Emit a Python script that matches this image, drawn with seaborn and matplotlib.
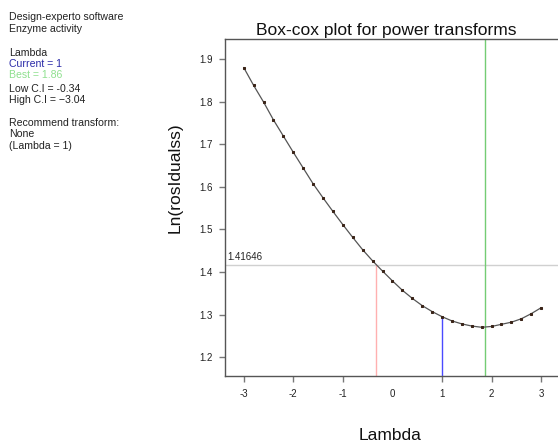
import matplotlib
matplotlib.use("Agg")
import matplotlib.pyplot as plt
import seaborn as sns
import pandas as pd

# ── data ──
lambdas = [-3.0, -2.8, -2.6, -2.4, -2.2, -2.0, -1.8, -1.6, -1.4, -1.2, -1.0,
           -0.8, -0.6, -0.4, -0.2, 0.0, 0.2, 0.4, 0.6, 0.8, 1.0,
           1.2, 1.4, 1.6, 1.8, 2.0, 2.2, 2.4, 2.6, 2.8, 3.0]
ln_resid = [1.880, 1.838, 1.799, 1.757, 1.719, 1.681, 1.644, 1.607, 1.574, 1.542, 1.511,
            1.481, 1.452, 1.426, 1.402, 1.379, 1.357, 1.338, 1.321, 1.307, 1.295,
            1.285, 1.278, 1.273, 1.270, 1.272, 1.277, 1.282, 1.290, 1.302, 1.316]
x_ticks = [-3, -2, -1, 0, 1, 2, 3]
y_ticks = [1.2, 1.3, 1.4, 1.5, 1.6, 1.7, 1.8, 1.9]

current = 1.0
current_val = 1.295
best = 1.86
low_ci = -0.34
ci_level = 1.41646

df = pd.DataFrame({"Lambda": lambdas, "ln": ln_resid})

sns.set_theme(style="white")
plt.rcParams["font.family"] = ["Liberation Sans", "DejaVu Sans"]

fig = plt.figure(figsize=(5.58, 4.43), dpi=100)
ax = fig.add_axes([0.403, 0.151, 0.597, 0.761])

# reference lines
ax.axhline(ci_level, color="#d0d0d0", linewidth=1, zorder=1)
ax.axvline(best, color="#74cc74", linewidth=1, zorder=1)
ax.plot([low_ci, low_ci], [1.1554, ci_level], color="#ffb0b0", linewidth=1, zorder=1)
ax.plot([current, current], [1.1554, current_val], color="#4a4aff", linewidth=1, zorder=1)

sns.lineplot(data=df, x="Lambda", y="ln", ax=ax, color="#555555", linewidth=0.9,
             marker="s", markersize=1.8, markerfacecolor="#3a2418",
             markeredgecolor="#3a2418", zorder=3)

ax.text(-3.33, ci_level + 0.006, "1.41646", fontsize=7, color="#222222",
        ha="left", va="bottom")

ax.set_xlim(-3.38, 3.34)
ax.set_ylim(1.1554, 1.947)
ax.set_xticks(x_ticks)
ax.set_xticklabels(["-3", "-2", "-1", "0", "1", "2", "3"])
ax.set_yticks(y_ticks)
ax.set_yticklabels([f"{v:.1f}" for v in y_ticks])
ax.tick_params(axis="both", direction="out", length=4, width=1, color="#777777",
               labelsize=7, labelcolor="#222222", pad=5, bottom=True, left=True)
ax.tick_params(axis="x", pad=5)
ax.xaxis.get_major_ticks()[3].tick1line.set_visible(False)
for side in ["left", "bottom", "top"]:
    ax.spines[side].set_color("#555555")
    ax.spines[side].set_linewidth(1)
ax.spines["right"].set_visible(False)

ax.set_xlabel("")
ax.set_ylabel("")
fig.text(0.692, 0.932, "Box-cox plot for power transforms", fontsize=12.5,
         ha="center", va="center", color="#111111")
fig.text(0.314, 0.60, "Ln(rosIdualss)", fontsize=12.5, rotation=90,
         ha="center", va="center", color="#111111")
fig.text(0.699, 1 - 436 / 443, "Lambda", fontsize=12.5, ha="center", va="center",
         color="#111111")

# side info text
info = [
    ("Design-experto software", "#222222", 17),
    ("Enzyme activity", "#222222", 29),
    ("Lambda", "#222222", 53),
    ("Current = 1", "#2a2aa8", 64),
    ("Best = 1.86", "#8fe08f", 75),
    ("Low C.I = -0.34", "#222222", 89),
    ("High C.I = \u22123.04", "#222222", 100),
    ("Recommend transform:", "#222222", 123),
    ("None", "#222222", 134),
    ("(Lambda = 1)", "#222222", 146),
]
for txt, col, ypix in info:
    fig.text(9 / 558, 1 - ypix / 443, txt, fontsize=7.6, color=col,
             ha="left", va="center")

fig.savefig("out.png", dpi=100)
